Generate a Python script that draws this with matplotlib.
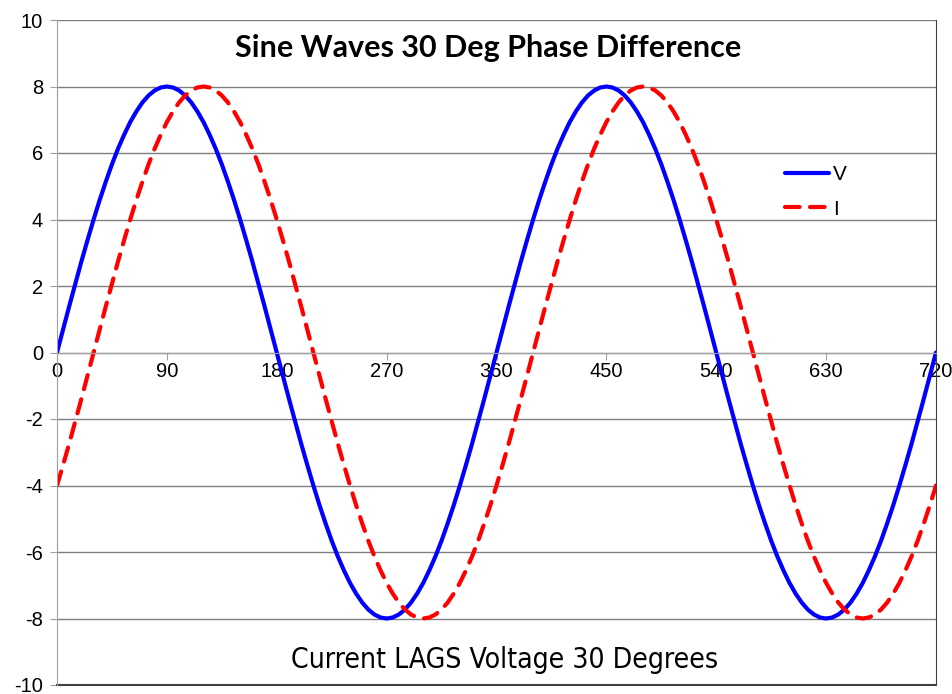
import matplotlib
matplotlib.use("Agg")
import matplotlib.pyplot as plt
from matplotlib.ticker import MultipleLocator, FuncFormatter

# Werte alle 5 Grad
grad = list(range(0, 721, 5))
spannung = [
    0.00, 0.70, 1.39, 2.07, 2.74, 3.38, 4.00, 4.59, 5.14, 5.66, 6.13, 6.55,
    6.93, 7.25, 7.52, 7.73, 7.88, 7.97, 8.00, 7.97, 7.88, 7.73, 7.52, 7.25,
    6.93, 6.55, 6.13, 5.66, 5.14, 4.59, 4.00, 3.38, 2.74, 2.07, 1.39, 0.70,
    0.00, -0.70, -1.39, -2.07, -2.74, -3.38, -4.00, -4.59, -5.14, -5.66, -6.13, -6.55,
    -6.93, -7.25, -7.52, -7.73, -7.88, -7.97, -8.00, -7.97, -7.88, -7.73, -7.52, -7.25,
    -6.93, -6.55, -6.13, -5.66, -5.14, -4.59, -4.00, -3.38, -2.74, -2.07, -1.39, -0.70,
    0.00, 0.70, 1.39, 2.07, 2.74, 3.38, 4.00, 4.59, 5.14, 5.66, 6.13, 6.55,
    6.93, 7.25, 7.52, 7.73, 7.88, 7.97, 8.00, 7.97, 7.88, 7.73, 7.52, 7.25,
    6.93, 6.55, 6.13, 5.66, 5.14, 4.59, 4.00, 3.38, 2.74, 2.07, 1.39, 0.70,
    0.00, -0.70, -1.39, -2.07, -2.74, -3.38, -4.00, -4.59, -5.14, -5.66, -6.13, -6.55,
    -6.93, -7.25, -7.52, -7.73, -7.88, -7.97, -8.00, -7.97, -7.88, -7.73, -7.52, -7.25,
    -6.93, -6.55, -6.13, -5.66, -5.14, -4.59, -4.00, -3.38, -2.74, -2.07, -1.39, -0.70,
    0.00]
strom = [
    -4.00, -3.38, -2.74, -2.07, -1.39, -0.70, 0.00, 0.70, 1.39, 2.07, 2.74, 3.38,
    4.00, 4.59, 5.14, 5.66, 6.13, 6.55, 6.93, 7.25, 7.52, 7.73, 7.88, 7.97,
    8.00, 7.97, 7.88, 7.73, 7.52, 7.25, 6.93, 6.55, 6.13, 5.66, 5.14, 4.59,
    4.00, 3.38, 2.74, 2.07, 1.39, 0.70, 0.00, -0.70, -1.39, -2.07, -2.74, -3.38,
    -4.00, -4.59, -5.14, -5.66, -6.13, -6.55, -6.93, -7.25, -7.52, -7.73, -7.88, -7.97,
    -8.00, -7.97, -7.88, -7.73, -7.52, -7.25, -6.93, -6.55, -6.13, -5.66, -5.14, -4.59,
    -4.00, -3.38, -2.74, -2.07, -1.39, -0.70, 0.00, 0.70, 1.39, 2.07, 2.74, 3.38,
    4.00, 4.59, 5.14, 5.66, 6.13, 6.55, 6.93, 7.25, 7.52, 7.73, 7.88, 7.97,
    8.00, 7.97, 7.88, 7.73, 7.52, 7.25, 6.93, 6.55, 6.13, 5.66, 5.14, 4.59,
    4.00, 3.38, 2.74, 2.07, 1.39, 0.70, 0.00, -0.70, -1.39, -2.07, -2.74, -3.38,
    -4.00, -4.59, -5.14, -5.66, -6.13, -6.55, -6.93, -7.25, -7.52, -7.73, -7.88, -7.97,
    -8.00, -7.97, -7.88, -7.73, -7.52, -7.25, -6.93, -6.55, -6.13, -5.66, -5.14, -4.59,
    -4.00]

titel = "Sine Waves 30 Deg Phase Difference"
notiz = "Current LAGS Voltage 30 Degrees"

plt.rcParams['font.family'] = ['Liberation Sans', 'DejaVu Sans']

fig = plt.figure(figsize=(9.53, 6.94), dpi=100)
ax = fig.add_axes([57 / 953, 9 / 694, 879 / 953, 665 / 694])

ax.plot(grad, spannung, color='#0000ff', lw=3, label='V', solid_capstyle='round')
ax.plot(grad, strom, color='#ff0000', lw=3, label='I', dashes=(3.5, 2.5),
        dash_capstyle='round')

ax.set_xlim(0, 720)
ax.set_ylim(-10, 10)
ax.xaxis.set_major_locator(MultipleLocator(90))
ax.yaxis.set_major_locator(MultipleLocator(2))
ax.yaxis.set_major_formatter(FuncFormatter(lambda v, p: f"{v:.0f}"))
ax.grid(axis='y', color='#7f7f7f', lw=1)
ax.set_axisbelow(True)

# x-Achse liegt bei 0, unterer Rand extra
ax.spines['bottom'].set_position(('data', 0))
ax.spines['bottom'].set_color('#a0a0a0')
ax.spines['left'].set_color('#a0a0a0')
ax.spines['top'].set_visible(False)
ax.spines['right'].set_color('#404040')
ax.axhline(-10, color='#404040', lw=1.5, clip_on=False)

ax.tick_params(axis='x', direction='out', length=5, color='#a0a0a0',
               labelsize=14.5, pad=2)
ax.tick_params(axis='y', direction='out', length=5, color='#a0a0a0',
               labelsize=14.5, pad=5)

ax.text(0.49, 0.979, titel, transform=ax.transAxes, ha='center', va='top',
        fontsize=22, fontweight='bold', family=['Lato', 'DejaVu Sans'])
ax.text(0.509, 0.026, notiz, transform=ax.transAxes, ha='center', va='baseline',
        fontsize=20.3, family=['DejaVu Sans'], fontstretch='condensed')

ax.legend(loc='upper left', bbox_to_anchor=(0.807, 0.81), frameon=False,
          fontsize=15, handlelength=2.1, handletextpad=0.2, labelspacing=0.75)

fig.savefig("out.png", dpi=100)
